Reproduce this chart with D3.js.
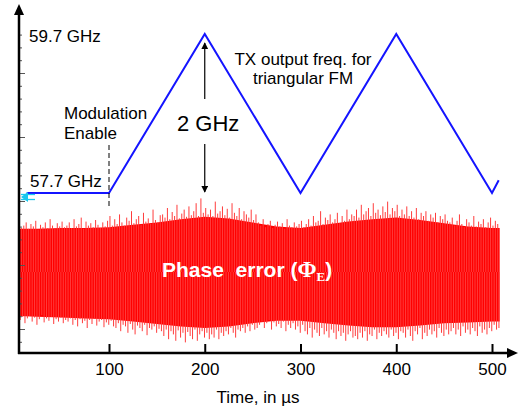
<!DOCTYPE html>
<html>
<head>
<meta charset="utf-8">
<script src="https://cdn.jsdelivr.net/npm/d3@7"></script>
<style>
  body { margin:0; background:#fff; }
  text { font-family:"Liberation Sans", Arial, sans-serif; }
</style>
</head>
<body>
<div id="chart"></div>
<script>
// TX frequency (triangular FM), GHz vs time in us
const fmTime = [14, 100, 200, 300, 400, 500, 507]
const fmFreq = [57.7, 57.7, 59.7, 57.7, 59.7, 57.7, 57.86]

// phase error, arbitrary units: spike peaks every 2.5 us
const spikeStart = 6, spikeStep = 2.5
const spikeTop = [
  70,55,58,62,54,60,57,64,53,59,56,62,55,66,58,54,61,57,63,56,
  58,62,55,66,57,60,68,54,63,58,61,56,65,59,55,62,57,64,70,58,
  66,60,72,62,58,68,64,76,61,66,70,59,74,63,67,60,78,65,62,71,
  72,68,80,66,75,70,84,67,73,78,69,82,71,76,86,70,92,74,80,72,
  78,70,88,73,76,82,71,79,68,86,74,70,80,66,76,72,68,78,65,72,
  62,58,66,56,60,64,55,59,63,57,61,54,66,58,56,62,57,60,64,56,
  60,66,58,70,62,64,76,60,68,65,72,62,66,74,61,70,64,78,66,72,
  70,78,68,84,72,76,80,70,86,74,78,71,82,75,88,72,80,76,84,70,
  78,72,82,70,76,68,80,66,74,70,76,64,72,68,74,62,70,66,72,64,
  62,68,58,64,72,60,56,66,62,58,70,57,63,60,66,56,62,68,58,64,
  60]
const spikeBot = [
  -60,-56,-64,-58,-55,-62,-57,-66,-59,-54,-63,-58,-61,-56,-65,-59,-62,-57,-64,-60,
  -62,-58,-66,-60,-68,-59,-64,-61,-70,-60,-65,-58,-67,-62,-60,-69,-63,-66,-61,-68,
  -70,-64,-74,-66,-68,-76,-65,-72,-78,-67,-70,-74,-66,-79,-70,-72,-68,-76,-71,-74,
  -80,-72,-84,-74,-78,-86,-73,-82,-76,-88,-75,-80,-84,-72,-86,-78,-74,-82,-76,-84,
  -78,-82,-72,-84,-76,-80,-74,-78,-70,-76,-82,-72,-74,-70,-76,-68,-74,-66,-72,-70,
  -66,-62,-70,-64,-60,-72,-63,-68,-65,-70,-62,-74,-66,-70,-64,-72,-68,-76,-66,-74,
  -78,-70,-82,-72,-76,-80,-70,-78,-74,-82,-72,-76,-84,-74,-80,-76,-86,-78,-74,-82,
  -80,-84,-76,-82,-74,-86,-78,-80,-72,-84,-76,-80,-74,-78,-82,-72,-80,-76,-84,-74,
  -76,-82,-72,-80,-86,-74,-78,-70,-84,-76,-80,-72,-78,-74,-82,-70,-76,-80,-72,-78,
  -74,-70,-78,-72,-80,-68,-76,-72,-78,-70,-74,-80,-68,-76,-72,-78,-70,-74,-66,-72,
  -70]
// dense core of the noise band
const coreTime = [6,25,50,75,100,125,150,175,200,225,250,275,300,325,350,375,400,425,450,475,500,508]
const coreTop = [54,54,55,55,56,59,62,66,69,67,62,57,55,59,63,66,68,65,61,57,55,55]
const coreBot = [-55,-56,-57,-58,-59,-62,-65,-68,-70,-68,-64,-61,-61,-64,-67,-69,-69,-67,-64,-63,-62,-62]

const xTicks = [100, 200, 300, 400, 500]

const width = 520, height = 408
let svg = d3.select("#chart").append("svg").attr("width", width).attr("height", height)

let x = d3.scaleLinear().domain([0, 500]).range([13.25, 492])
let yF = d3.scaleLinear().domain([57.7, 59.7]).range([193, 34])
let yP = d3.scaleLinear().domain([-100, 100]).range([352, 192])
let yDiv = d3.scaleLinear().domain([0, 20]).range([329, 73])

// noise band
let core = d3.area()
  .x((d,i) => x(coreTime[i]))
  .y0((d,i) => yP(coreBot[i]))
  .y1((d,i) => yP(coreTop[i]))
svg.append("path").attr("d", core(coreTime)).attr("fill", "#ff0000")

svg.append("g").selectAll("line").data(spikeTop).enter().append("line")
  .attr("x1", (d,i) => x(spikeStart + i*spikeStep)).attr("x2", (d,i) => x(spikeStart + i*spikeStep))
  .attr("y1", yP(0)).attr("y2", d => yP(d))
  .attr("stroke", "#ff3c3c").attr("stroke-width", 1)
svg.append("g").selectAll("line").data(spikeBot).enter().append("line")
  .attr("x1", (d,i) => x(spikeStart + 1.25 + i*spikeStep)).attr("x2", (d,i) => x(spikeStart + 1.25 + i*spikeStep))
  .attr("y1", yP(0)).attr("y2", d => yP(d))
  .attr("stroke", "#ff3c3c").attr("stroke-width", 1)

let pt = svg.append("text").attr("x", 162).attr("y", 277)
  .attr("fill", "#fff").attr("font-weight", "bold").attr("font-size", 21)
pt.append("tspan").attr("xml:space", "preserve").text("Phase  error (")
pt.append("tspan").attr("font-family", "Liberation Serif").attr("font-size", 23).text("Φ")
pt.append("tspan").attr("font-family", "Liberation Serif").attr("font-size", 13).attr("dy", 4).text("E")
pt.append("tspan").attr("dy", -4).text(")")

// FM line
let line = d3.line().x((d,i) => x(fmTime[i])).y((d,i) => yF(fmFreq[i]))
svg.append("path").attr("d", line(fmTime))
  .attr("fill", "none").attr("stroke", "#1414ff").attr("stroke-width", 2)

// modulation enable marker
svg.append("line").attr("x1", x(100)).attr("x2", x(100)).attr("y1", 145).attr("y2", 209)
  .attr("stroke", "#000").attr("stroke-dasharray", "5,3")

// cyan marker on y axis
let cy = yF(57.7) + 4
svg.append("path").attr("d", `M21,${cy} l7,-5 l0,10 z`).attr("fill", "#19c8ee")
svg.append("line").attr("x1", 21).attr("x2", 35).attr("y1", cy - 2.5).attr("y2", cy - 2.5).attr("stroke", "#19c8ee").attr("stroke-width", 1.3)
svg.append("line").attr("x1", 21).attr("x2", 35).attr("y1", cy + 2.5).attr("y2", cy + 2.5).attr("stroke", "#19c8ee").attr("stroke-width", 1.3)

// 2 GHz arrows
svg.append("defs").append("marker").attr("id", "ah").attr("viewBox", "0 0 10 10")
  .attr("refX", 9).attr("refY", 5).attr("markerWidth", 7).attr("markerHeight", 7)
  .attr("markerUnits", "userSpaceOnUse").attr("orient", "auto")
  .append("path").attr("d", "M0,0 L10,5 L0,10 z").attr("fill", "#000")
svg.append("line").attr("x1", x(200)).attr("x2", x(200)).attr("y1", 99).attr("y2", yF(59.7) + 9)
  .attr("stroke", "#000").attr("stroke-width", 1.2).attr("marker-end", "url(#ah)")
svg.append("line").attr("x1", x(200)).attr("x2", x(200)).attr("y1", 144).attr("y2", yF(57.7) - 1)
  .attr("stroke", "#000").attr("stroke-width", 1.2).attr("marker-end", "url(#ah)")

// annotations
let fs = 17
svg.append("text").attr("x", 29).attr("y", 42).attr("font-size", fs).text("59.7 GHz")
svg.append("text").attr("x", 30).attr("y", 187).attr("font-size", fs).text("57.7 GHz")
svg.append("text").attr("x", 64).attr("y", 119).attr("font-size", fs).text("Modulation")
svg.append("text").attr("x", 64).attr("y", 139).attr("font-size", fs).text("Enable")
svg.append("text").attr("x", 177).attr("y", 131).attr("font-size", 22).text("2 GHz")
svg.append("text").attr("x", 303).attr("y", 65).attr("font-size", fs).attr("text-anchor", "middle").text("TX output freq. for")
svg.append("text").attr("x", 303).attr("y", 84).attr("font-size", fs).attr("text-anchor", "middle").text("triangular FM")

// axes
let xAxis = d3.axisBottom(x).tickValues(xTicks).tickSize(-9).tickPadding(10)
let xg = svg.append("g").attr("transform", "translate(0,353)").call(xAxis)
xg.select(".domain").remove()
xg.selectAll(".tick line").attr("stroke-width", 2)
xg.selectAll("text").attr("font-size", fs).attr("font-family", "Liberation Sans").attr("fill", "#000")

let minor = d3.axisRight(yDiv).tickValues(d3.range(-1, 24)).tickSize(3).tickFormat("")
let major = d3.axisRight(yDiv).tickValues(d3.range(0, 21, 5)).tickSize(6).tickFormat("")
let yg1 = svg.append("g").attr("transform", "translate(19,0)").call(minor)
let yg2 = svg.append("g").attr("transform", "translate(19,0)").call(major)
yg1.select(".domain").remove()
yg2.select(".domain").remove()
yg1.selectAll(".tick line").attr("stroke", "#555")
yg2.selectAll(".tick line").attr("stroke", "#555")

svg.append("line").attr("x1", 18).attr("x2", 509).attr("y1", 353).attr("y2", 353).attr("stroke", "#000").attr("stroke-width", 2.5)
svg.append("path").attr("d", "M518,353 l-11,-5 l0,10 z").attr("fill", "#000")
svg.append("line").attr("x1", 19).attr("x2", 19).attr("y1", 354).attr("y2", 14).attr("stroke", "#000").attr("stroke-width", 2.5)
svg.append("path").attr("d", "M19,4 l-5,11 l10,0 z").attr("fill", "#000")

svg.append("text").attr("x", 258).attr("y", 403).attr("font-size", fs).attr("text-anchor", "middle").text("Time, in µs")
</script>
</body>
</html>
